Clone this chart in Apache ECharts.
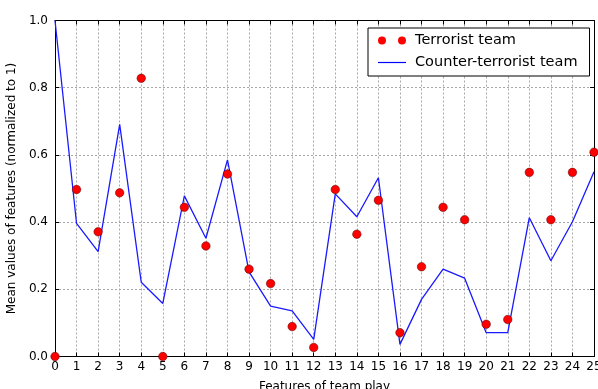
<!DOCTYPE html>
<html>
<head>
<meta charset="utf-8">
<script src="https://cdn.jsdelivr.net/npm/echarts@6/dist/echarts.min.js"></script>
<style>
  html, body { margin: 0; padding: 0; background: #fff; }
  #chart { width: 598px; height: 389px; }
</style>
</head>
<body>
<div id="chart"></div>
<script>
// Feature indices along the x axis
const features = [0,1,2,3,4,5,6,7,8,9,10,11,12,13,14,15,16,17,18,19,20,21,22,23,24,25];

// Mean normalized feature values per team
const terroristValues = [0.0, 0.497, 0.371, 0.487, 0.828, 0.0, 0.444, 0.329, 0.543, 0.260,
  0.217, 0.089, 0.027, 0.497, 0.364, 0.465, 0.071, 0.267, 0.444, 0.407,
  0.096, 0.110, 0.548, 0.407, 0.548, 0.608];
const counterTerroristValues = [1.0, 0.396, 0.312, 0.691, 0.221, 0.158, 0.478, 0.352, 0.585, 0.252,
  0.150, 0.136, 0.051, 0.484, 0.416, 0.532, 0.036, 0.170, 0.260, 0.233,
  0.071, 0.071, 0.413, 0.285, 0.401, 0.550];

const FONT = 'DejaVu Sans';
const chart = echarts.init(document.getElementById('chart'), null, { renderer: 'canvas' });

const gridLine = { show: true, lineStyle: { color: '#a8a8a8', type: [2, 2], width: 1 } };
const frameLine = { show: true, onZero: false, lineStyle: { color: '#000', width: 1 } };
const inTick = { show: true, inside: true, length: 4, lineStyle: { color: '#000', width: 1 } };

chart.setOption({
  animation: false,
  backgroundColor: '#fff',
  grid: { left: 55, right: 4, top: 20.5, bottom: 32.5, containLabel: false, outerBoundsMode: 'none' },
  legend: {
    left: 368, top: 28,
    orient: 'vertical',
    backgroundColor: '#fff',
    borderColor: '#000', borderWidth: 1, borderRadius: 0,
    padding: [5, 12, 6, 10],
    itemGap: 7,
    itemWidth: 28, itemHeight: 8,
    textStyle: { fontFamily: FONT, fontSize: 14.5, color: '#000', padding: [0, 0, 0, 4] },
    data: [
      { name: 'Terrorist team',
        icon: 'path://M0,4a4,4 0 1,0 8,0a4,4 0 1,0 -8,0M20,4a4,4 0 1,0 8,0a4,4 0 1,0 -8,0',
        itemStyle: { color: '#ff0000', borderWidth: 0 } },
      { name: 'Counter-terrorist team',
        icon: 'path://M0,0M0,3.4L28,3.4L28,4.6L0,4.6ZM28,8',
        itemStyle: { color: '#0000ff', borderWidth: 0 } }
    ]
  },
  xAxis: [
    {
      type: 'value', min: 0, max: 25, interval: 1,
      axisLine: frameLine, axisTick: inTick, splitLine: gridLine,
      axisLabel: { fontFamily: FONT, fontSize: 12, color: '#000', margin: 4,
                   formatter: v => String(v) },
      name: 'Features of team play', nameLocation: 'middle', nameGap: 24,
      nameTextStyle: { fontFamily: FONT, fontSize: 12, color: '#000' }
    },
    {
      type: 'value', position: 'top', min: 0, max: 25, interval: 1,
      axisLine: frameLine, axisTick: inTick, splitLine: { show: false },
      axisLabel: { show: false }
    }
  ],
  yAxis: [
    {
      type: 'value', min: 0, max: 1, interval: 0.2,
      axisLine: frameLine, axisTick: inTick, splitLine: gridLine,
      axisLabel: { fontFamily: FONT, fontSize: 12, color: '#000', margin: 7,
                   formatter: v => v.toFixed(1) },
      name: 'Mean values of features (normalized to 1)', nameLocation: 'middle', nameGap: 36,
      nameTextStyle: { fontFamily: FONT, fontSize: 12, color: '#000' }
    },
    {
      type: 'value', position: 'right', min: 0, max: 1, interval: 0.2,
      axisLine: frameLine, axisTick: inTick, splitLine: { show: false },
      axisLabel: { show: false }
    }
  ],
  series: [
    {
      name: 'Counter-terrorist team', type: 'line',
      data: features.map((f, i) => [f, counterTerroristValues[i]]),
      symbol: 'none', showSymbol: false,
      lineStyle: { color: '#1a1aff', width: 1.3 },
      itemStyle: { color: '#0000ff' },
      z: 2
    },
    {
      name: 'Terrorist team', type: 'scatter',
      data: features.map((f, i) => [f, terroristValues[i]]),
      symbol: 'circle', symbolSize: 8.5,
      itemStyle: { color: '#ff0000', borderColor: '#500000', borderWidth: 0.5, opacity: 1 },
      clip: true,
      z: 3
    }
  ]
});
</script>
</body>
</html>
